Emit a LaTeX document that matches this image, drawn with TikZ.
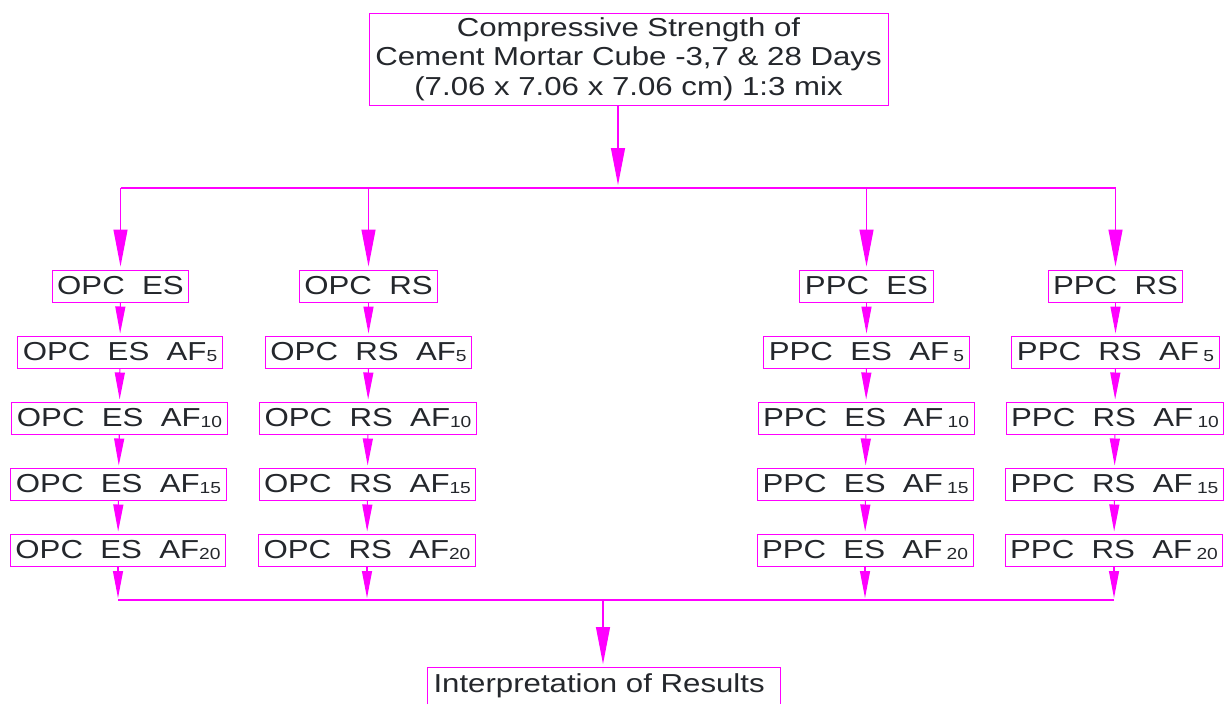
\documentclass[tikz,border=0pt]{standalone}
\usepackage{fontspec}
\setmainfont{Liberation Sans}[FakeStretch=1.2]
\usetikzlibrary{arrows.meta}

\definecolor{boxmagenta}{RGB}{255,0,255}
\definecolor{inkgray}{RGB}{36,39,44}
\newcommand{\stagefont}{\fontsize{26}{29.5}\selectfont}
\newcommand{\afsub}[1]{\raisebox{-1.5pt}{\fontsize{16}{16}\selectfont #1}}

\begin{document}
\begin{tikzpicture}[x=1pt,y=-1pt,
        stage/.style={rectangle,draw=boxmagenta,line width=1pt,text=inkgray,font=\stagefont,inner xsep=5pt,inner ysep=0pt,minimum height=32pt},
        bus/.style={draw=boxmagenta,line width=1.2pt},
        push/.style={draw=boxmagenta,line width=1.2pt,-{Triangle[length=27pt,width=10pt]},shorten >=2pt},
        bigpush/.style={draw=boxmagenta,line width=1.2pt,-{Triangle[length=37pt,width=14pt]},shorten >=3pt},
      ]
      \useasboundingbox (0,0) rectangle (1225,704);
      \node[stage,minimum width=519pt,minimum height=92pt,align=center] at (628.5,59) (top) {Compressive Strength of\\Cement Mortar Cube -3,7 \& 28 Days\\(7.06 x 7.06 x 7.06 cm) 1:3 mix};
%
      \node[stage] at (120.5,286) (OPCES) {OPC~~ES};
      \node[stage] at (120,352) (OPCESfive) {OPC~~ES~~AF\afsub{5}};
      \node[stage] at (119.5,418) (OPCESten) {OPC~~ES~~AF\afsub{10}};
      \node[stage] at (118.5,484) (OPCESfifteen) {OPC~~ES~~AF\afsub{15}};
      \node[stage] at (118,550) (OPCEStwenty) {OPC~~ES~~AF\afsub{20}};
%
      \node[stage] at (368.5,286) (OPCRS) {OPC~~RS};
      \node[stage] at (368.5,352) (OPCRSfive) {OPC~~RS~~AF\afsub{5}};
      \node[stage] at (368,418) (OPCRSten) {OPC~~RS~~AF\afsub{10}};
      \node[stage] at (367.5,484) (OPCRSfifteen) {OPC~~RS~~AF\afsub{15}};
      \node[stage] at (367,550) (OPCRStwenty) {OPC~~RS~~AF\afsub{20}};
%
      \node[stage] at (866.5,286) (PPCES) {PPC~~ES};
      \node[stage] at (866.5,352) (PPCESfive) {PPC~~ES~~AF\,\afsub{5}};
      \node[stage] at (866,418) (PPCESten) {PPC~~ES~~AF\,\afsub{10}};
      \node[stage] at (865.5,484) (PPCESfifteen) {PPC~~ES~~AF\,\afsub{15}};
      \node[stage] at (865,550) (PPCEStwenty) {PPC~~ES~~AF\,\afsub{20}};
%
      \node[stage] at (1115.5,286) (PPCRS) {PPC~~RS};
      \node[stage] at (1115.5,352) (PPCRSfive) {PPC~~RS~~AF\,\afsub{5}};
      \node[stage] at (1115,418) (PPCRSten) {PPC~~RS~~AF\,\afsub{10}};
      \node[stage] at (1114.5,484) (PPCRSfifteen) {PPC~~RS~~AF\,\afsub{15}};
      \node[stage] at (1114,550) (PPCRStwenty) {PPC~~RS~~AF\,\afsub{20}};
%
      % box runs off the lower edge of the page
      \node[stage,draw=none,anchor=north west,text width=340pt,align=left,inner xsep=6pt,inner ysep=6pt] at (427,667) (results) {Interpretation of Results};
      \coordinate (pagebottom) at (0,704);
      \draw[draw=boxmagenta,line width=1pt] (results.north west |- pagebottom) -- (results.north west) -- (results.north east) -- (results.north east |- pagebottom);
%
      \coordinate (topbus) at (618,188);
      \coordinate (botbus) at (603,600);
      \path[bus] (OPCES.north |- topbus) -- (PPCRS.north |- topbus);
      \path[bigpush] (top.south -| topbus) -- (topbus);
      \path[bigpush] (OPCES.north |- topbus) -- (OPCES.north);
      \path[bigpush] (OPCRS.north |- topbus) -- (OPCRS.north);
      \path[bigpush] (PPCES.north |- topbus) -- (PPCES.north);
      \path[bigpush] (PPCRS.north |- topbus) -- (PPCRS.north);
%
      \path[push] (OPCES) -- (OPCESfive);
      \path[push] (OPCESfive) -- (OPCESten);
      \path[push] (OPCESten) -- (OPCESfifteen);
      \path[push] (OPCESfifteen) -- (OPCEStwenty);
      \path[push] (OPCRS) -- (OPCRSfive);
      \path[push] (OPCRSfive) -- (OPCRSten);
      \path[push] (OPCRSten) -- (OPCRSfifteen);
      \path[push] (OPCRSfifteen) -- (OPCRStwenty);
      \path[push] (PPCES) -- (PPCESfive);
      \path[push] (PPCESfive) -- (PPCESten);
      \path[push] (PPCESten) -- (PPCESfifteen);
      \path[push] (PPCESfifteen) -- (PPCEStwenty);
      \path[push] (PPCRS) -- (PPCRSfive);
      \path[push] (PPCRSfive) -- (PPCRSten);
      \path[push] (PPCRSten) -- (PPCRSfifteen);
      \path[push] (PPCRSfifteen) -- (PPCRStwenty);
%
      \path[bus] (OPCEStwenty.south |- botbus) -- (PPCRStwenty.south |- botbus);
      \path[push] (OPCEStwenty) -- (OPCEStwenty.south |- botbus);
      \path[push] (OPCRStwenty) -- (OPCRStwenty.south |- botbus);
      \path[push] (PPCEStwenty) -- (PPCEStwenty.south |- botbus);
      \path[push] (PPCRStwenty) -- (PPCRStwenty.south |- botbus);
      \path[bigpush] (botbus) -- (results.north -| botbus);
    \end{tikzpicture}
\end{document}
